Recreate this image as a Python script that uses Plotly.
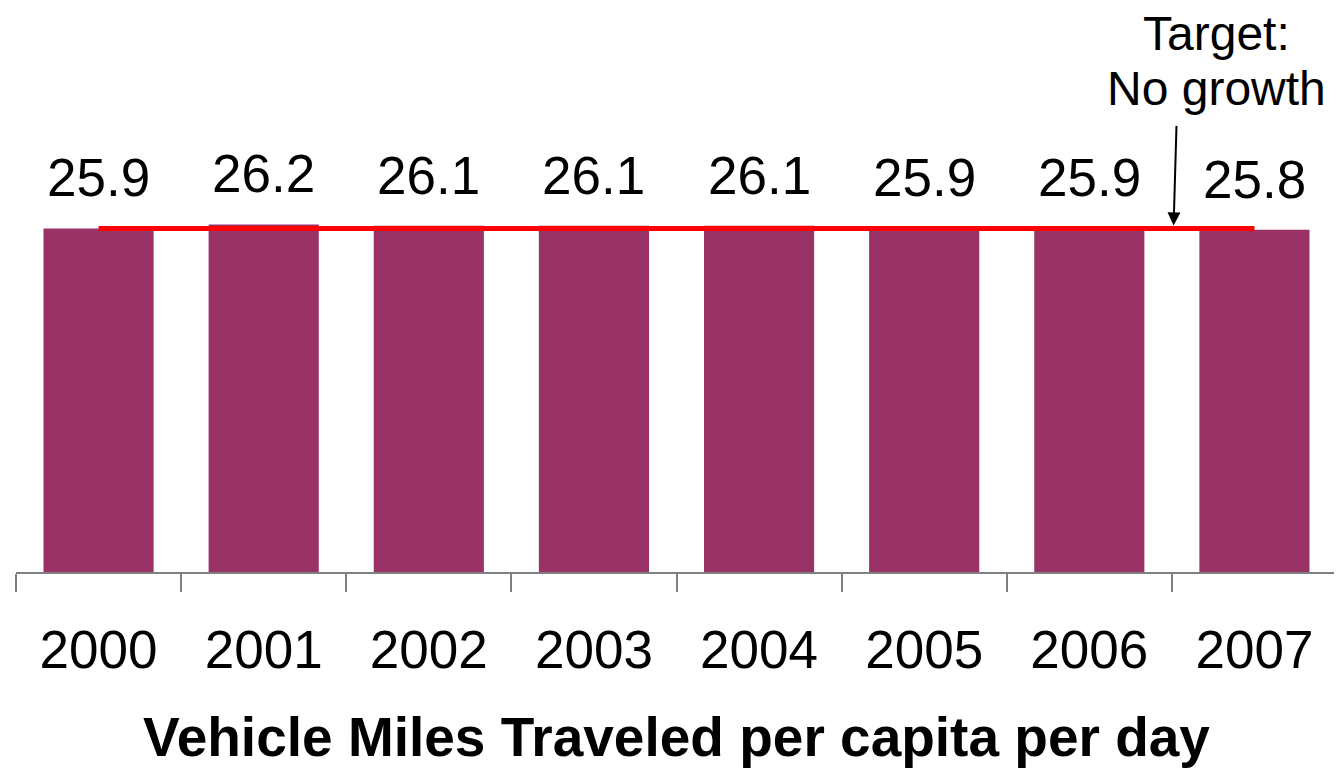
import plotly.graph_objects as go

years = ["2000", "2001", "2002", "2003", "2004", "2005", "2006", "2007"]
vmt = [25.9, 26.2, 26.1, 26.1, 26.1, 25.9, 25.9, 25.8]
target_value = 25.9
target_lines = ["Target:", "No growth"]
axis_title = "<b>Vehicle Miles Traveled per capita per day</b>"

FONT = "Liberation Sans, Arial, sans-serif"

fig = go.Figure()
fig.add_trace(go.Bar(x=years, y=vmt, marker=dict(color="#993366", line=dict(width=0)),
                     hoverinfo="skip"))
fig.add_trace(go.Scatter(x=[years[0], years[-1]], y=[target_value, target_value],
                         mode="lines", line=dict(color="#ff0000", width=5),
                         hoverinfo="skip"))

annotations = []
for i, v in enumerate(vmt):
    annotations.append(dict(x=i, y=v, xref="x", yref="y", text=f"{v:.1f}",
                            showarrow=False, yanchor="bottom", yshift=19,
                            font=dict(family=FONT, size=53, color="black")))
# arrow pointing at the target line between 2006 and 2007
annotations.append(dict(x=6.51, y=target_value, xref="x", yref="y",
                        ax=3, ay=-104, text="",
                        showarrow=True, arrowhead=2, arrowsize=1.3, arrowwidth=2,
                        arrowcolor="black", standoff=3))
for line, cy in zip(target_lines, [25, 80]):
    annotations.append(dict(x=(1208 - 8) / 1321, y=1 + (166 - cy) / 398,
                            xref="paper", yref="paper", text=line,
                            xanchor="center", yanchor="middle",
                            showarrow=False, font=dict(family=FONT, size=48, color="black")))

fig.update_layout(
    width=1342, height=769,
    margin=dict(l=8, r=13, t=166, b=205),
    paper_bgcolor="white", plot_bgcolor="white",
    showlegend=False, bargap=0.333,
    font=dict(family=FONT, color="black"),
    xaxis=dict(type="category", categoryorder="array", categoryarray=years,
               range=[-0.5, len(years) - 0.5], autorange=False,
               showline=True, linecolor="#808080", linewidth=2,
               ticks="outside", tickson="boundaries", ticklen=18, tickwidth=2,
               tickcolor="#808080", tickfont=dict(family=FONT, size=53, color="black"),
               tickangle=0, ticklabelstandoff=30,
               title=dict(text=axis_title, font=dict(family=FONT, size=55, color="black"),
                          standoff=40),
               showgrid=False, zeroline=False, fixedrange=True, automargin=False),
    yaxis=dict(range=[0, 30], visible=False, showgrid=False, zeroline=False, fixedrange=True),
    annotations=annotations,
)

fig.write_html("out.html")
